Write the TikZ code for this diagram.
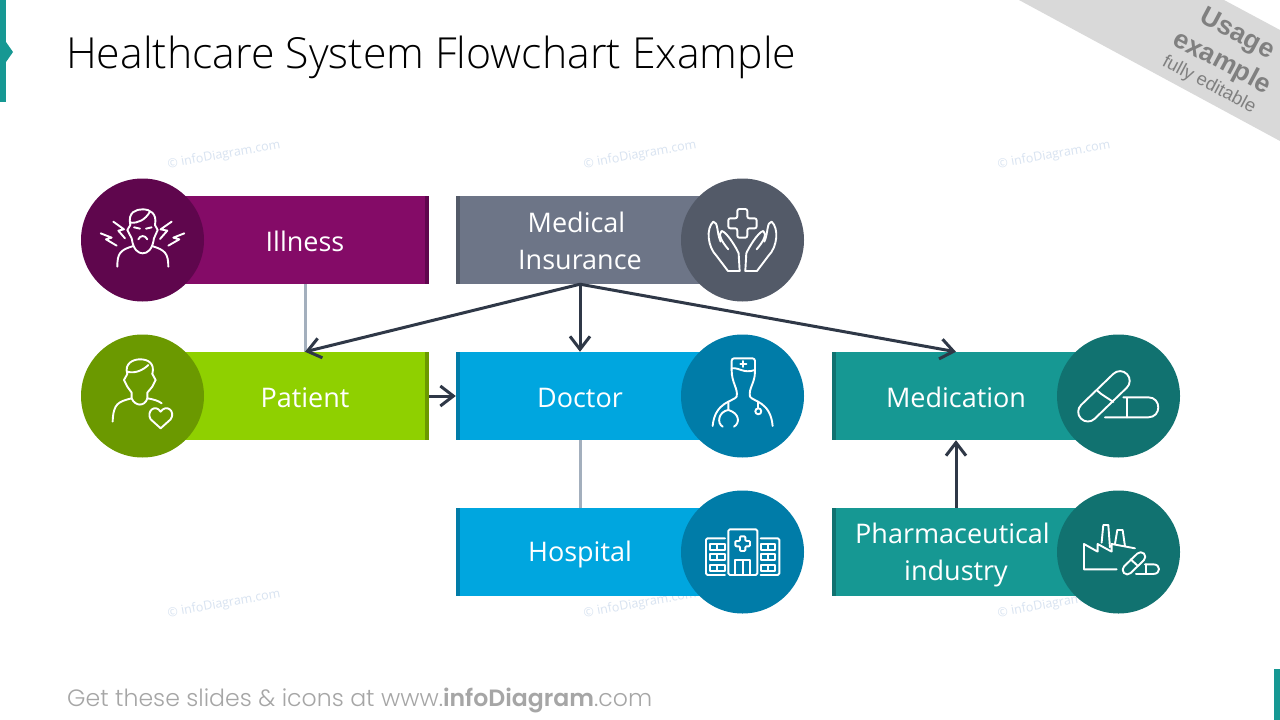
\documentclass[tikz,border=0pt]{standalone}
\usepackage{fontspec}
\setmainfont{Open Sans}
\newfontfamily\titlefont{Open Sans}[UprightFont=* Light]
\newfontfamily\footfont{Poppins}[UprightFont=* Light,BoldFont=* SemiBold]
\newfontfamily\badgefont{Liberation Sans}
\usetikzlibrary{arrows.meta,calc}
\definecolor{illA}{HTML}{840B67}\definecolor{illB}{HTML}{5F064D}
\definecolor{patA}{HTML}{8FD000}\definecolor{patB}{HTML}{6B9900}
\definecolor{insA}{HTML}{6D7587}\definecolor{insB}{HTML}{535A68}
\definecolor{docA}{HTML}{00A6DF}\definecolor{docB}{HTML}{007CA8}
\definecolor{medA}{HTML}{169893}\definecolor{medB}{HTML}{117270}
\definecolor{lineG}{HTML}{A3AFBD}\definecolor{lineD}{HTML}{2F3847}
\definecolor{wm}{HTML}{D8E3F1}
\newcommand\lab{\rule[-4pt]{0pt}{30pt}}
\newcommand\trail{\rule{7pt}{0pt}}
\tikzset{
  x=1pt,y=-1pt,
  boxnode/.style={rectangle,draw=none,minimum width=248pt,minimum height=88pt,inner sep=0pt,
    text=white,align=center,font=\fontsize{27}{37}\selectfont},
  disc/.style={circle,draw=none,minimum size=123pt,inner sep=0pt},
  plain/.style={draw=lineG,line width=3pt},
  flow/.style={draw=lineD,line width=3pt,-{Straight Barb[length=13pt,width=20pt,line width=3pt]}},
  icon/.style={draw=white,line width=1.9pt,line join=round,line cap=round},
  watermark/.style={text=wm,rotate=10,font=\fontsize{12.5}{14}\selectfont,inner sep=0pt},
  badge/.style={text=black!50,rotate=-28,inner sep=0pt}
}
\begin{document}
\begin{tikzpicture}
\useasboundingbox (0,0) rectangle (1280,720);
\fill[white] (0,0) rectangle (1280,720);
% accents
\fill[medA] (0,0) rectangle (6,102);
\fill[medA] (6,42) -- (13,52) -- (6,62) -- cycle;
\fill[medA] (1274,669) rectangle (1280,720);
% badge
\fill[black!15] (1019,0) -- (1224,0) -- (1280,30) -- (1280,141) -- cycle;
\node[badge,font=\badgefont\bfseries\fontsize{26.5}{28}\selectfont] (bu) at (1237,35) {Usage};
\node[badge,font=\badgefont\bfseries\fontsize{26.5}{28}\selectfont] (be) at (1222,63) {example};
\node[badge,font=\badgefont\fontsize{18.5}{20}\selectfont] (bf) at (1209,85) {fully editable};
% title
\node[anchor=base west,inner sep=0pt,font=\titlefont\fontsize{42.8}{50}\selectfont,text=black] (title) at (66,68) {Healthcare System Flowchart Example};
% watermarks
\node[watermark] (w1) at (224,155) {© infoDiagram.com};
\node[watermark] (w2) at (640,155) {© infoDiagram.com};
\node[watermark] (w3) at (1054,155) {© infoDiagram.com};
\node[watermark] (w4) at (224,604) {© infoDiagram.com};
\node[watermark] (w5) at (640,604) {© infoDiagram.com};
\node[watermark] (w6) at (1054,604) {© infoDiagram.com};
% boxes
\node[boxnode,fill=illA] (illness) at (305,240) {\lab Illness};
\node[boxnode,fill=patA] (patient) at (305,396) {\lab Patient};
\node[boxnode,fill=insA] (insurance) at (580,240) {\lab Medical\trail\\\lab Insurance};
\node[boxnode,fill=docA] (doctor) at (580,396) {\lab Doctor};
\node[boxnode,fill=docA] (hospital) at (580,552) {\lab Hospital};
\node[boxnode,fill=medA] (medication) at (956,396) {\lab Medication};
\node[boxnode,fill=medA] (pharma) at (956,552) {\lab Pharmaceutical\trail\\\lab industry};
% strips
\fill[illB] (illness.north east) rectangle ([xshift=-4pt]illness.south east);
\fill[patB] (patient.north east) rectangle ([xshift=-4pt]patient.south east);
\fill[insB] (insurance.north west) rectangle ([xshift=4pt]insurance.south west);
\fill[docB] (doctor.north west) rectangle ([xshift=4pt]doctor.south west);
\fill[docB] (hospital.north west) rectangle ([xshift=4pt]hospital.south west);
\fill[medB] (medication.north west) rectangle ([xshift=4pt]medication.south west);
\fill[medB] (pharma.north west) rectangle ([xshift=4pt]pharma.south west);
% discs
\node[disc,fill=illB] (c1) at (142.5,240) {};
\node[disc,fill=patB] (c2) at (142.5,396) {};
\node[disc,fill=insB] (c3) at (742.5,240) {};
\node[disc,fill=docB] (c4) at (742.5,396) {};
\node[disc,fill=docB] (c5) at (742.5,552) {};
\node[disc,fill=medB] (c6) at (1118.5,396) {};
\node[disc,fill=medB] (c7) at (1118.5,552) {};
% connectors
\draw[plain] (illness.south) -- (patient.north);
\draw[plain] (doctor.south) -- (hospital.north);
\draw[flow] (insurance.south) -- (patient.north);
\draw[flow] (insurance.south) -- (doctor.north);
\draw[flow] (insurance.south) -- (medication.north);
\draw[flow] (patient.east) -- (doctor.west);
\draw[flow] (pharma.north) -- (medication.south);
% icons, left column
\begin{scope}[shift={(70,170)},x=0.3333pt,y=-0.3333pt,icon]
 % illness
 \draw (181,165) .. controls (172,125) and (200,118) .. (218,118) .. controls (240,118) and (262,130) .. (255,165);
 \draw (181,158) .. controls (205,160) and (225,150) .. (240,125);
 \draw (181,165) -- (172,180) -- (185,205) .. controls (190,240) and (205,250) .. (218,250) .. controls (232,250) and (247,240) .. (252,205) -- (263,180) -- (255,165);
 \draw (142,290) .. controls (142,250) and (150,240) .. (190,228);
 \draw (246,228) .. controls (285,240) and (295,250) .. (295,290);
 \draw (192,172) -- (210,176) (245,172) -- (228,176);
 \draw (205,208) .. controls (210,195) and (226,195) .. (232,208);
 \draw (130,155) -- (162,178) -- (145,182) -- (165,205);
 \draw (92,190) -- (125,203) -- (108,208) -- (140,227);
 \draw (305,155) -- (272,178) -- (292,182) -- (270,207);
 \draw (343,190) -- (310,203) -- (328,208) -- (295,227);
 % patient
 \draw (172,612) .. controls (162,580) and (190,568) .. (210,568) .. controls (235,568) and (255,580) .. (247,612);
 \draw (172,605) .. controls (195,612) and (220,600) .. (235,585);
 \draw (172,612) -- (162,630) -- (172,650) -- (185,668) -- (185,685) .. controls (195,710) and (225,710) .. (232,685) -- (232,668) -- (247,650) -- (257,630) -- (247,612);
 \draw (128,755) .. controls (130,700) and (145,695) .. (185,685);
 \draw (232,685) .. controls (250,688) and (265,692) .. (275,700);
 \draw (272,775) -- (242,748) .. controls (228,725) and (255,700) .. (272,725) .. controls (290,700) and (318,725) .. (302,748) -- cycle;
\end{scope}
% icons, middle column
\begin{scope}[shift={(450,170)},x=0.3333pt,y=-0.3333pt,icon]
 % cross
 \draw[rounded corners=2pt] (862,117) -- (892,117) -- (892,145) -- (920,145) -- (920,175) -- (892,175) -- (892,203) -- (862,203) -- (862,175) -- (835,175) -- (835,145) -- (862,145) -- cycle;
 % hands
 \draw (869,303) -- (834,303) -- (800,258) .. controls (772,230) and (768,175) .. (790,155) .. controls (805,155) and (800,190) .. (812,215);
 \draw (835,238) .. controls (815,215) and (803,192) .. (815,183) .. controls (830,185) and (860,235) .. (866,250) -- (869,303);
 \draw (886,303) -- (921,303) -- (955,258) .. controls (983,230) and (987,175) .. (965,155) .. controls (950,155) and (955,190) .. (943,215);
 \draw (920,238) .. controls (940,215) and (952,192) .. (940,183) .. controls (925,185) and (895,235) .. (889,250) -- (886,303);
 % doctor
 \draw[rounded corners=2.5pt] (845,600) -- (845,565) -- (915,565) -- (915,605);
 \draw (845,595) .. controls (870,592) and (880,612) .. (915,600);
 \draw (880,573) -- (880,591) (871,582) -- (889,582);
 \draw (845,600) .. controls (845,640) and (865,655) .. (860,680) .. controls (850,695) and (795,695) .. (788,768);
 \draw (915,605) .. controls (915,640) and (895,655) .. (900,680) .. controls (910,695) and (962,695) .. (968,768);
 \draw (835,695) -- (835,720) .. controls (805,725) and (800,760) .. (818,770);
 \draw (835,720) .. controls (870,730) and (870,760) .. (852,770);
 \draw (925,695) -- (925,715);
 \draw (925,724) circle[radius=9];
\end{scope}
% icons, hospital, pills, factory
\begin{scope}[shift={(680,320)},x=0.3333pt,y=-0.3333pt,icon]
 % hospital
 \draw[rounded corners=1.5pt] (145,765) -- (145,628) -- (232,628) -- (232,765) -- cycle;
 \draw[rounded corners=1pt] (180,649) -- (196,649) -- (196,663) -- (210,663) -- (210,679) -- (196,679) -- (196,693) -- (180,693) -- (180,679) -- (166,679) -- (166,663) -- (180,663) -- cycle;
 \draw (165,765) -- (165,720) -- (210,720) -- (210,765) (188,720) -- (188,765);
 \draw[rounded corners=1.5pt] (135,655) -- (78,655) -- (78,765) -- (135,765);
 \draw[rounded corners=1.5pt] (242,655) -- (298,655) -- (298,765) -- (242,765);
 \foreach \yy in {672,703,735}{
  \draw (91,\yy) rectangle (134,\yy+17) (112,\yy) -- (112,\yy+17);
  \draw (243,\yy) rectangle (286,\yy+17) (265,\yy) -- (265,\yy+17);
 }
 % big pill
 \draw[rounded corners=9.6pt,rotate around={44:(1272,229)}] (1176,200) rectangle (1368,258);
 \draw (1252,212) .. controls (1265,225) and (1285,235) .. (1300,246);
 % small pill
 \draw (1330,232) -- (1405,232) .. controls (1445,232) and (1445,292) .. (1405,292) -- (1275,292);
 \draw (1342,235) -- (1342,292);
 % factory
 \draw (1310,748) -- (1212,748) -- (1212,672) -- (1253,695) -- (1253,672) -- (1295,695) -- (1295,672) -- (1365,685);
 \draw (1265,668) -- (1270,615) -- (1285,615) -- (1290,682);
 \draw (1305,672) -- (1312,630) -- (1328,630) -- (1335,678);
 \draw[rounded corners=4.8pt,rotate around={44:(1362,730)}] (1320,716) rectangle (1404,744);
 \draw (1352,718) -- (1374,738);
 \draw (1395,733) -- (1420,733) .. controls (1443,733) and (1443,762) .. (1420,762) -- (1368,762);
 \draw (1397,733) -- (1397,762);
\end{scope}
% footer
\node[anchor=base west,inner sep=0pt,text=black!35,font=\footfont\fontsize{23.6}{26}\selectfont] (foot) at (67,706) {Get these slides \& icons at www.\textbf{infoDiagram}.com};
\end{tikzpicture}
\end{document}
